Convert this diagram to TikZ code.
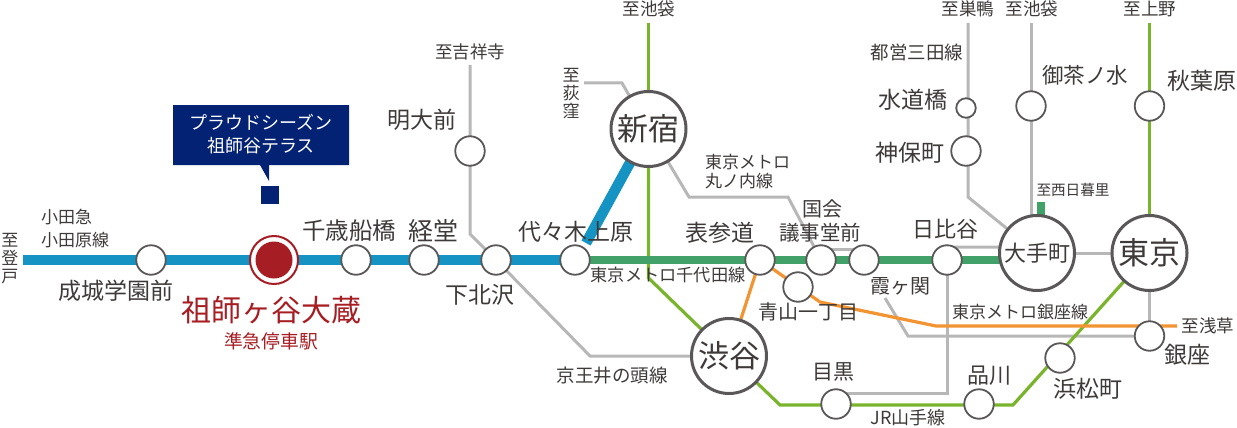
\documentclass[tikz,border=0pt]{standalone}
\usepackage{fontspec}
\setmainfont{Noto Sans CJK JP}
\usetikzlibrary{backgrounds,calc}
\definecolor{odakyu}{HTML}{1593C2}
\definecolor{chiyoda}{HTML}{42A168}
\definecolor{jr}{HTML}{7AB42C}
\definecolor{grayline}{HTML}{B7B7B7}
\definecolor{ginzaline}{HTML}{F39433}
\definecolor{ring}{HTML}{595757}
\definecolor{crimson}{HTML}{A61E24}
\definecolor{navy}{HTML}{032273}
\definecolor{ink}{HTML}{3E3A39}
\newcommand{\fs}[1]{\fontsize{#1}{#1}\selectfont}
\tikzset{
  x=1pt,y=-1pt,
  st/.style={circle,draw=ring,fill=white,line width=1.8pt,inner sep=0pt,outer sep=0pt,minimum size=29.5pt},
  stsmall/.style={st,minimum size=19.5pt},
  hub/.style={circle,draw=ring,fill=white,line width=3pt,inner sep=0pt,outer sep=0pt,minimum size=75pt,text=ink},
  lbl/.style={text=ink,inner sep=0pt,font=\fs{#1}},
  lbl/.default=23,
  thinlbl/.style={lbl=17,align=left},
  mainline/.style={odakyu,line width=10.5pt},
  chiyodaline/.style={chiyoda,line width=8pt},
  jrline/.style={jr,line width=3.2pt},
  greyl/.style={grayline,line width=3pt},
  orangel/.style={ginzaline,line width=3.2pt},
}
\begin{document}
\begin{tikzpicture}
\useasboundingbox (0,0) rectangle (1237,428);
% free ends and bends
\coordinate (endwest) at (23,260);
\coordinate (endike) at (648.5,23);
\coordinate (jrbend) at (648.5,278);
\coordinate (jrb2) at (780,405);
\coordinate (jrb3) at (1013,405);
\coordinate (enduen) at (1149.5,23);
\coordinate (endkichi) at (470,65);
\coordinate (b1) at (470,234);
\coordinate (b2) at (590,356);
\coordinate (endogi) at (584,83);
\coordinate (b3) at (622,83);
\coordinate (m1) at (689,197);
\coordinate (m2) at (788,197);
\coordinate (endsu) at (968,23);
\coordinate (s1) at (968,197);
\coordinate (endoc) at (1031,23);
\coordinate (endnis) at (1041,202);
\coordinate (bluetip) at (586,243);
\coordinate (h1) at (885,298);
\coordinate (h2) at (908,336);
\coordinate (hb1) at (947,393);
\coordinate (hb2) at (836,393);
\coordinate (chend) at (1037,260);
\coordinate (o1) at (820,302);
\coordinate (o2) at (936,326);
\coordinate (endasa) at (1177,326);
% stations
\node[st] (seijo) at (151,260) {};
\node[circle,draw=crimson,fill=white,line width=2pt,minimum size=48pt,inner sep=0pt,outer sep=0pt] (soshi) at (274,260) {};
\node[circle,fill=crimson,minimum size=37pt,inner sep=0pt] (soshiin) at (274,260) {};
\node[st] (chitose) at (356,260) {};
\node[st] (kyodo) at (424,260) {};
\node[st] (shimo) at (496,260) {};
\node[st] (yoyogi) at (575,260) {};
\node[st] (meidai) at (470,151) {};
\node[hub] (shinjuku) at (648.5,129) {\fs{31}新宿};
\node[hub] (shibuya) at (729,356) {\fs{31}渋谷};
\node[hub] (otemachi) at (1037,253) {\fs{22}大手町};
\node[hub] (tokyo) at (1149.5,253) {\fs{31}東京};
\node[st] (omote) at (760,260) {};
\node[st] (aoyama) at (798,287) {};
\node[st] (kokkai) at (821,260) {};
\node[st] (kasumi) at (864,260) {};
\node[st] (hibiya) at (947,260) {};
\node[st] (ginza) at (1149.5,336) {};
\node[st] (hama) at (1060,358) {};
\node[st] (shina) at (979,404) {};
\node[st] (meguro) at (836,404) {};
\node[st] (jimbo) at (966,151) {};
\node[stsmall] (suido) at (966,108) {};
\node[st] (ocha) at (1031,106) {};
\node[st] (akiba) at (1149.5,106) {};
% connectors
\begin{pgfonlayer}{background}
\draw[greyl] (endkichi) -- (meidai) -- (b1) -- (shimo.center) -- (b2) -- (shibuya);
\draw[greyl] (endogi) -- (b3) -- (shinjuku);
\draw[greyl] (shinjuku) -- (m1) -- (m2) -- (kokkai);
\draw[greyl] ($(kokkai.north)+(0,4)$) -- ($(kasumi.north)+(0,4)$);
\draw[greyl] ($(hibiya.north)+(0,2)$) -- ($(otemachi.west)+(0,-6)$);
\draw[greyl] (otemachi) -- (tokyo);
\draw[greyl] (tokyo) -- (ginza);
\draw[greyl] (endsu) -- (s1) -- (otemachi);
\draw[greyl] (endoc) -- (ocha) -- ($(otemachi.north)+(-6,0)$);
\draw[greyl] (h1) -- (h2) -- (ginza);
\draw[greyl] (hibiya) -- (hb1) -- (hb2);
\draw[jrline] (endike) -- (shinjuku);
\draw[jrline] (shinjuku) -- (jrbend) -- (shibuya);
\draw[jrline] (shibuya) -- (jrb2) -- (jrb3) -- (tokyo);
\draw[jrline] (enduen) -- (akiba) -- (tokyo);
\draw[orangel] (omote) -- (shibuya);
\draw[orangel] (omote.center) -- (o1) -- (o2) -- (endasa);
\draw[chiyodaline] (yoyogi) -- (chend);
\draw[chiyodaline] (endnis) -- ($(otemachi.north)+(4,0)$);
\draw[mainline] (endwest) -- (yoyogi);
\draw[mainline] (shinjuku) -- (bluetip);
\end{pgfonlayer}
% callout
\fill[navy] (173,105) -- (349,105) -- (349,165) -- (269,165) -- (269,181) -- (260,165) -- (173,165) -- cycle;
\node[text=white,align=center,inner sep=0pt,font=\fs{18}] (proud) at (261,134) {プラウドシーズン\\[5pt]祖師谷テラス};
\node[fill=navy,minimum size=18pt,inner sep=0pt] (home) at (269.5,195) {};
% station labels
\node[lbl] (l1) at (116,291) {成城学園前};
\node[lbl=30,text=crimson] (l2) at (271,310) {祖師ヶ谷大蔵};
\node[lbl=18.8,text=crimson] (l3) at (271,341) {準急停車駅};
\node[lbl=23.5] (l4) at (349,231) {千歳船橋};
\node[lbl=25] (l5) at (433,231) {経堂};
\node[lbl] (l6) at (480,295) {下北沢};
\node[lbl] (l7) at (576,232) {代々木上原};
\node[lbl] (l8) at (720,233) {表参道};
\node[lbl=20] (l9) at (822,209) {国会};
\node[lbl=20.5] (l10) at (820,233) {議事堂前};
\node[lbl=22] (l11) at (945,229) {日比谷};
\node[lbl] (l12) at (422,120) {明大前};
\node[lbl=20] (l13) at (900,286) {霞ヶ関};
\node[lbl=20] (l14) at (808,312) {青山一丁目};
\node[lbl=21] (l15) at (833,372) {目黒};
\node[lbl=22] (l16) at (989,376) {品川};
\node[lbl] (l17) at (1088,389) {浜松町};
\node[lbl] (l18) at (1187,355) {銀座};
\node[lbl] (l19) at (1202,81) {秋葉原};
\node[lbl=21.5] (l20) at (1085,75) {御茶ノ水};
\node[lbl] (l21) at (913,100) {水道橋};
\node[lbl] (l22) at (910,153) {神保町};
% small labels
\node[thinlbl] (t1) at (10,259) {至\\[1pt]登\\[1pt]戸};
\node[thinlbl,anchor=west] (t2) at (41,228.5) {小田急\\[6pt]小田原線};
\node[lbl=18.5] (t3) at (917,52) {都営三田線};
\node[lbl=17.5] (t4) at (968,9) {至巣鴨};
\node[lbl=17.5] (t5) at (1032,9) {至池袋};
\node[lbl=17.5] (t6) at (1150,9) {至上野};
\node[lbl=17.5] (t7) at (649,9) {至池袋};
\node[lbl=17.5] (t8) at (470,52) {至吉祥寺};
\node[thinlbl] (t9) at (571,94) {至\\[1pt]荻\\[1pt]窪};
\node[thinlbl,anchor=west] (t10) at (705,172) {東京メトロ\\[2pt]丸ノ内線};
\node[lbl=14.6] (t11) at (1073,190) {至西日暮里};
\node[lbl=17] (t12) at (1020,312) {東京メトロ銀座線};
\node[lbl=17.5] (t13) at (1208,326) {至浅草};
\node[lbl=18] (t14) at (908,418) {JR山手線};
\node[lbl=18.5] (t15) at (612,376) {京王井の頭線};
\node[lbl=17.2] (t16) at (668,275) {東京メトロ千代田線};
\end{tikzpicture}
\end{document}
